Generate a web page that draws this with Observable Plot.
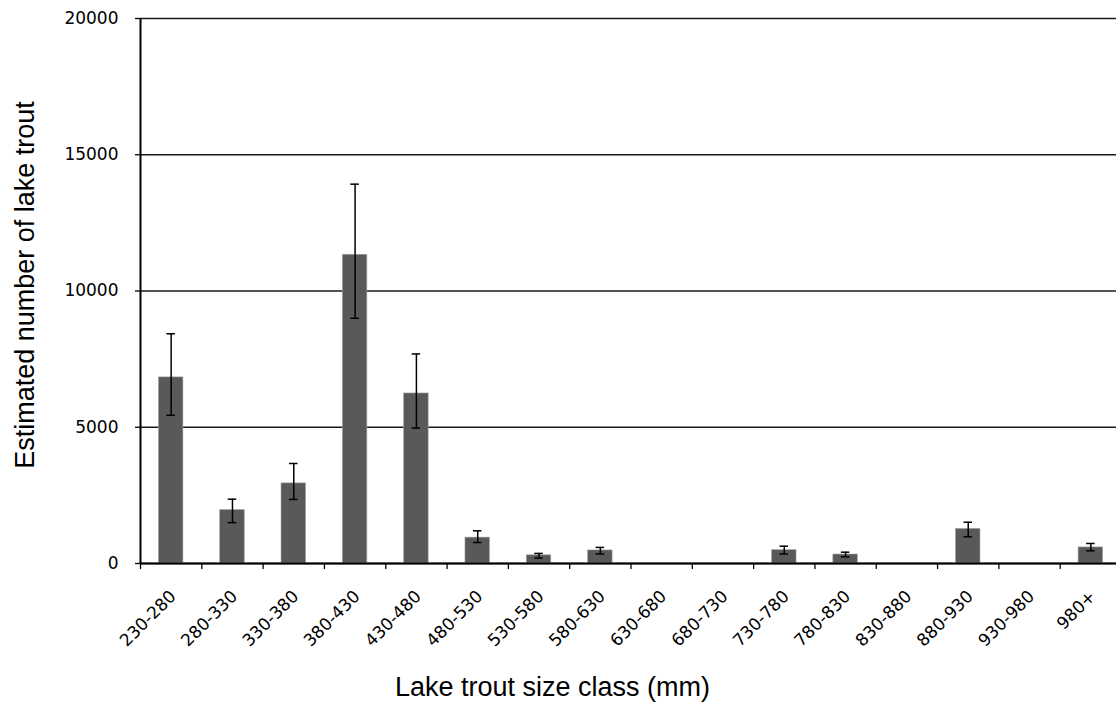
<!DOCTYPE html>
<html>
<head>
<meta charset="utf-8">
<script src="https://cdn.jsdelivr.net/npm/d3@7"></script>
<script src="https://cdn.jsdelivr.net/npm/@observablehq/plot@0.6"></script>
<style>
  html, body { margin: 0; padding: 0; background: #fff; }
  svg { display: block; }
</style>
</head>
<body>
<div id="chart"></div>
<script>
const categories = ["230-280","280-330","330-380","380-430","430-480","480-530","530-580","580-630","630-680","680-730","730-780","780-830","830-880","880-930","930-980","980+"];
const estimates  = [6830, 1960, 2940, 11330, 6240, 950, 300, 480, 0, 0, 490, 330, 0, 1270, 0, 590];
const lowerCI    = [5440, 1500, 2350, 9000, 4970, 770, 200, 350, null, null, 350, 245, null, 980, null, 465];
const upperCI    = [8430, 2360, 3670, 13920, 7690, 1200, 370, 590, null, null, 635, 415, null, 1515, null, 735];
const yTicks     = [0, 5000, 10000, 15000, 20000];
const xTitle = "Lake trout size class (mm)";
const yTitle = "Estimated number of lake trout";

const data = categories.map((c, i) => ({cat: c, value: estimates[i], lo: lowerCI[i], hi: upperCI[i]}));
const errs = data.filter(d => d.lo != null && d.hi != null);

const W = 1116, H = 705;
const mL = 140, mR = -5, mT = 18, mB = 142;
const step = (W - mR - mL) / categories.length;
const tickFont = "DejaVu Sans, sans-serif";
const titleFont = "Liberation Sans, Arial, sans-serif";

const chart = Plot.plot({
  width: W, height: H,
  marginLeft: mL, marginRight: mR, marginTop: mT, marginBottom: mB,
  style: {background: "#fff", fontFamily: tickFont, overflow: "hidden"},
  x: {domain: categories, paddingInner: 0.6, paddingOuter: 0.3, round: false, axis: null},
  y: {domain: [0, 20000], axis: null},
  marks: [
    Plot.gridY(yTicks, {stroke: "#1a1a1a", strokeOpacity: 1, strokeWidth: 1.3}),
    Plot.barY(data.filter(d => d.value > 0), {x: "cat", y: "value", fill: "#595959", stroke: "#a6a6a6", strokeWidth: 0.6}),
    Plot.ruleX(errs, {x: "cat", y1: "lo", y2: "hi", stroke: "#000", strokeWidth: 1.5}),
    Plot.tickY(errs, {x: "cat", y: "hi", stroke: "#000", strokeWidth: 1.5, insetLeft: 8, insetRight: 8}),
    Plot.tickY(errs, {x: "cat", y: "lo", stroke: "#000", strokeWidth: 1.5, insetLeft: 8, insetRight: 8}),
    Plot.axisY({ticks: yTicks, tickSize: 5, tickPadding: 17, fontSize: 17, fontFamily: tickFont, fill: "#000", stroke: "#000", strokeWidth: 1.3, strokeOpacity: 1, label: null, tickFormat: d => String(d)}),
    Plot.ruleX([0], {x: () => categories[0], dx: -step/2, y1: 0, y2: 20000, stroke: "#000", strokeWidth: 2}),
    Plot.ruleY([0], {stroke: "#000", strokeWidth: 2}),
    Plot.axisX({tickSize: 6, dx: -step/2, tickFormat: () => "", stroke: "#000", strokeWidth: 1.3, strokeOpacity: 1, label: null}),
    Plot.text(categories, {x: d => d, frameAnchor: "bottom", lineAnchor: "middle", dy: 30, dx: 2, rotate: -45, textAnchor: "end", fontSize: 17, fontFamily: tickFont, fill: "#000"}),
    Plot.text([xTitle], {frameAnchor: "bottom", lineAnchor: "bottom", textAnchor: "middle", dx: -78.5, dy: 132, fontSize: 27, fontFamily: titleFont, fill: "#000"}),
    Plot.text([yTitle], {frameAnchor: "left", lineAnchor: "middle", textAnchor: "middle", dx: -115.6, dy: -6, rotate: -90, fontSize: 27, fontFamily: titleFont, fill: "#000"})
  ]
});
document.getElementById("chart").appendChild(chart);
</script>
</body>
</html>
